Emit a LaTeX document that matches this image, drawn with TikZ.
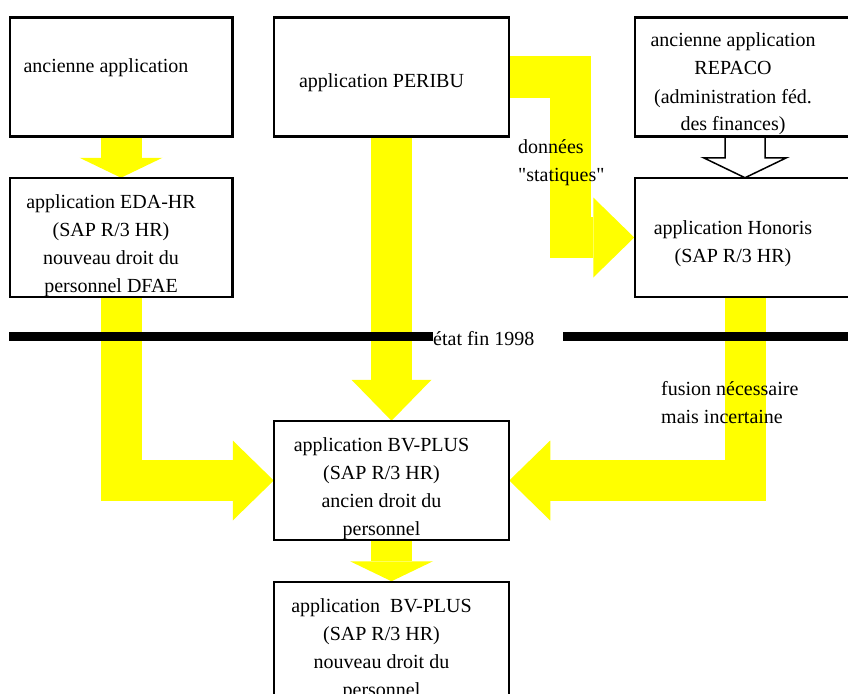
\documentclass[tikz,border=0pt]{standalone}
\usepackage{fontspec}
\setmainfont{Liberation Serif}
\usetikzlibrary{positioning,arrows.meta}
\definecolor{jaune}{RGB}{255,255,0}
\newcommand{\lignes}[2]{\begin{tabular}[t]{@{}#1@{}}#2\end{tabular}}
\newcommand{\guill}{\XeTeXglyph\XeTeXcharglyph"22 }

\begin{document}
\begin{tikzpicture}[x=1pt, y=-1pt, font=\fontsize{20}{28}\selectfont, node distance=41pt,
    boite/.style={draw, line width=1.5pt, inner sep=0pt, minimum width=234pt, minimum height=118pt, text height=30pt, text depth=88pt},
    grosse/.style={draw=jaune, line width=41pt, -{Triangle[length=41pt, width=80pt, line width=0pt]}},
    courte/.style={draw=jaune, line width=41pt, -{Triangle[length=20pt, width=83pt, line width=0pt]}},
    creuse/.style={draw, line width=1.5pt, fill=white},
    barre/.style={line width=9pt}]
  \useasboundingbox (0,0) rectangle (848,693);
  \clip (0,0) rectangle (848,693);
  % boites
  \node[boite, minimum width=222pt, text height=54pt, text depth=64pt] (anc) at (121,77) {\lignes{c}{ancienne application}\kern30pt};
  \node[boite, right=of anc, text height=69pt, text depth=49pt] (per) {\lignes{c}{application PERIBU}\kern20pt};
  \node[boite, right=125pt of per, minimum width=220pt, text height=29pt, text depth=89pt] (rep) {\lignes{c}{ancienne application\\REPACO\\(administration féd.\\des finances)}\kern24pt};
  \node[boite, below=of anc, minimum width=222pt] (eda) {\lignes{c}{application EDA-HR\\(SAP R/3 HR)\\nouveau droit du\\personnel DFAE}\kern20pt};
  \node[boite, below=of rep, minimum width=220pt, text height=56pt, text depth=62pt] (hon) {\lignes{c}{application Honoris\\(SAP R/3 HR)}\kern24pt};
  \node[boite, below=284pt of per] (bv1) {\lignes{c}{application BV-PLUS\\(SAP R/3 HR)\\ancien droit du\\personnel}\kern20pt};
  \node[boite, below=of bv1] (bv2) {\lignes{c}{application~ BV-PLUS\\(SAP R/3 HR)\\nouveau droit du\\personnel}\kern20pt};
  % fleches
  \draw[courte] (anc) -- (eda);
  \draw[grosse] (per) -- (bv1);
  \draw[courte] (bv1) -- (bv2);
  \draw[grosse] (eda) |- (bv1);
  \draw[grosse] (hon) |- (bv1);
  \draw[grosse] (per.east) -- ++(61,0) |- (hon);
  \draw[creuse] ([xshift=-20pt]rep.south) -- ++(0,21) -- ++(-21.5,0) -- (hon.north) -- ++(41.5,-20) -- ++(-21.5,0) -- ([xshift=20pt]rep.south);
  % boites par-dessus
  \foreach \b in {anc,per,rep,eda,hon,bv1,bv2}
    \draw[line width=1.5pt] (\b.north west) rectangle (\b.south east);
  % ligne 1998
  \coordinate (barreG) at (9,336.5);
  \coordinate (barreD) at (848,336.5);
  \node[anchor=base west, inner sep=0pt] (etat) at (433,345) {état fin 1998};
  \draw[barre] (barreG) -- (barreG -| etat.west);
  \draw[barre] ([xshift=29pt]barreD -| etat.east) -- (barreD);
  % textes
  \node[anchor=base west, inner sep=0pt] (donnees) at (518,153) {\lignes{l}{données\\\guill statiques\guill}};
  \node[anchor=base west, inner sep=0pt] (fusion) at (661,395) {\lignes{l}{fusion nécessaire\\mais incertaine}};
\end{tikzpicture}
\end{document}
